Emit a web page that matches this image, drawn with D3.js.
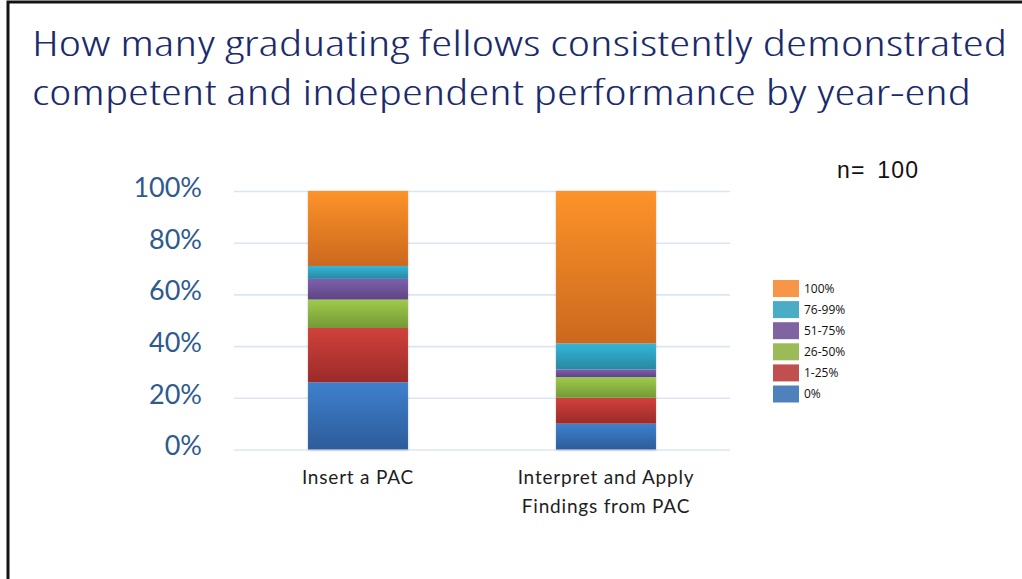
<!DOCTYPE html>
<html>
<head>
<meta charset="utf-8">
<script src="https://cdn.jsdelivr.net/npm/d3@7"></script>
<style>
  html, body { margin: 0; padding: 0; background: #fff; }
  svg { display: block; }
</style>
</head>
<body>
<svg id="chart" width="1022" height="579"></svg>
<script>
// Outcome categories along the x axis
const categories = ["Insert a PAC", "Interpret and Apply\nFindings from PAC"];

// Share of fellows (%, n = 100) in each performance band, per category
const band0      = [26, 10];   // 0%
const band1to25  = [21, 10];   // 1-25%
const band26to50 = [11, 8];    // 26-50%
const band51to75 = [8, 3];     // 51-75%
const band76to99 = [5, 10];    // 76-99%
const band100    = [29, 59];   // 100%

const seriesNames = ["0%", "1-25%", "26-50%", "51-75%", "76-99%", "100%"];
const seriesValues = [band0, band1to25, band26to50, band51to75, band76to99, band100];

const yTicks = [0, 0.2, 0.4, 0.6, 0.8, 1.0];

const titleLines = [
  "How many graduating fellows consistently demonstrated",
  "competent and independent performance by year-end"
];
const sampleNote = "n= 100";

// Palette: flat legend colour plus top/bottom shades for the bar gradients
const palette = {
  "0%":     { flat: "#4F81BD", top: "#3E80CD", bottom: "#2D5C9A" },
  "1-25%":  { flat: "#C0504D", top: "#D1413B", bottom: "#9A2B2A" },
  "26-50%": { flat: "#9BBB59", top: "#A0CA4C", bottom: "#749936" },
  "51-75%": { flat: "#8064A2", top: "#7F5FAE", bottom: "#5C4582" },
  "76-99%": { flat: "#4BACC6", top: "#33B6DA", bottom: "#2888A2" },
  "100%":   { flat: "#F79646", top: "#FD9329", bottom: "#CB681E" }
};

const svg = d3.select("#chart");

// Build one table row per category for the stack layout
const table = categories.map((c, i) => {
  const row = { category: c };
  seriesNames.forEach((s, k) => { row[s] = seriesValues[k][i] / 100; });
  return row;
});
const stacked = d3.stack().keys(seriesNames)(table);

// Slide frame
svg.append("path")
  .attr("d", "M8,579 V2 H1022")
  .attr("fill", "none")
  .attr("stroke", "#141414")
  .attr("stroke-width", 3);

// Title
svg.append("g").selectAll("text")
  .data(titleLines)
  .join("text")
  .attr("x", 32)
  .attr("y", (d, i) => 56 + i * 49)
  .attr("textLength", (d, i) => i === 0 ? 975 : 939)
  .attr("lengthAdjust", "spacingAndGlyphs")
  .attr("font-family", "'Open Sans', Lato, sans-serif")
  .style("font-stretch", "75%")
  .attr("font-weight", 300)
  .attr("font-size", 34)
  .attr("fill", "#1B2A6B")
  .text(d => d);

// Scales
const x = d3.scaleBand()
  .domain(categories)
  .range([234, 730])
  .paddingInner(0.597)
  .paddingOuter(0.2985);

const y = d3.scaleLinear()
  .domain([0, 1])
  .range([449.5, 191]);

// Gridlines and y tick labels
const yAxis = svg.append("g")
  .attr("transform", `translate(${x.range()[0]},0)`)
  .call(d3.axisLeft(y)
    .tickValues(yTicks)
    .tickFormat(d3.format(".0%"))
    .tickSize(-(x.range()[1] - x.range()[0]))
    .tickPadding(32));
yAxis.select(".domain").remove();
yAxis.selectAll(".tick line")
  .attr("stroke", "#DCE6F3")
  .attr("stroke-width", 1.6);
yAxis.selectAll(".tick text")
  .attr("font-family", "Lato, 'Open Sans', sans-serif")
  .attr("font-size", 27)
  .attr("fill", "#2E5A8E")
  .attr("dy", "0.2em");

// Gradients per series (each segment shades from top to bottom)
const defs = svg.append("defs");
seriesNames.forEach((s, k) => {
  const g = defs.append("linearGradient")
    .attr("id", "grad" + k)
    .attr("x1", 0).attr("y1", 0).attr("x2", 0).attr("y2", 1);
  g.append("stop").attr("offset", "0%").attr("stop-color", palette[s].top);
  g.append("stop").attr("offset", "100%").attr("stop-color", palette[s].bottom);
});
const shadow = defs.append("filter")
  .attr("id", "barShadow")
  .attr("x", "-10%").attr("y", "-10%").attr("width", "120%").attr("height", "120%");
shadow.append("feDropShadow")
  .attr("dx", 0).attr("dy", 0.5)
  .attr("stdDeviation", 1.2)
  .attr("flood-color", "#000")
  .attr("flood-opacity", 0.25);

// Soft shadow behind each full column
svg.append("g").selectAll("rect")
  .data(table)
  .join("rect")
  .attr("x", d => x(d.category))
  .attr("width", x.bandwidth())
  .attr("y", d => y(d3.sum(seriesNames, s => d[s])))
  .attr("height", d => y(0) - y(d3.sum(seriesNames, s => d[s])))
  .attr("fill", "#fff")
  .attr("filter", "url(#barShadow)");

// Stacked segments
svg.append("g").selectAll("g")
  .data(stacked)
  .join("g")
  .attr("fill", (d, k) => `url(#grad${k})`)
  .selectAll("rect")
  .data(d => d)
  .join("rect")
  .attr("x", d => x(d.data.category))
  .attr("width", x.bandwidth())
  .attr("y", d => y(d[1]))
  .attr("height", d => y(d[0]) - y(d[1]));

// Category labels (multi-line)
const catLabels = svg.append("g").selectAll("text")
  .data(categories)
  .join("text")
  .attr("x", d => x(d) + x.bandwidth() / 2)
  .attr("y", 484)
  .attr("text-anchor", "middle")
  .attr("font-family", "Lato, 'Open Sans', sans-serif")
  .attr("font-size", 19)
  .attr("letter-spacing", 0.8)
  .attr("fill", "#1e1e1e");
catLabels.selectAll("tspan")
  .data(d => d.split("\n"))
  .join("tspan")
  .attr("x", function() { return d3.select(this.parentNode).attr("x"); })
  .attr("dy", (d, i) => i === 0 ? 0 : 29)
  .text(d => d);

// Sample size note
svg.append("text")
  .attr("x", 837)
  .attr("y", 178)
  .attr("font-family", "'Liberation Sans', Arial, sans-serif")
  .attr("font-size", 23)
  .attr("letter-spacing", 1.2)
  .attr("word-spacing", 4)
  .attr("fill", "#111")
  .text(sampleNote);

// Legend (100% at the top, 0% at the bottom)
const legendItems = seriesNames.slice().reverse();
const legend = svg.append("g").attr("transform", "translate(773,280)");
const rows = legend.selectAll("g")
  .data(legendItems)
  .join("g")
  .attr("transform", (d, i) => `translate(0,${i * 21.1})`);
rows.append("rect")
  .attr("width", 26)
  .attr("height", 17)
  .attr("fill", d => palette[d].flat);
rows.append("text")
  .attr("x", 31)
  .attr("y", 8.5)
  .attr("dy", "0.36em")
  .attr("font-family", "'Open Sans', 'Noto Sans', sans-serif")
  .attr("font-size", 12)
  .attr("fill", "#111")
  .text(d => d);
</script>
</body>
</html>
